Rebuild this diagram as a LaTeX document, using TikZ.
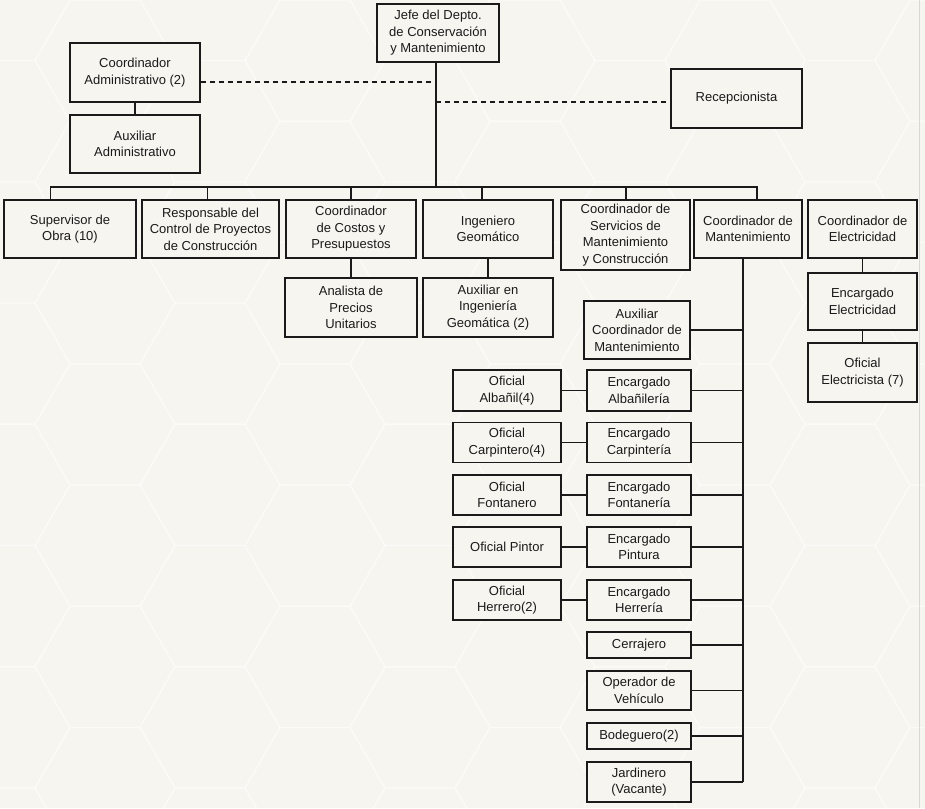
\documentclass[tikz,border=0pt]{standalone}
\usepackage{fontspec}
\setmainfont{Liberation Sans}
\definecolor{bgc}{HTML}{F6F5F0}
\definecolor{hexc}{HTML}{FBFBF8}
\definecolor{linec}{HTML}{1A1A1A}
\definecolor{edgec}{HTML}{D8D8D4}
\begin{document}
\begin{tikzpicture}[x=1pt,y=-1pt,
  box/.style={draw=linec, line width=1.1pt, fill=bgc, align=center, inner sep=1pt,
    text=linec, font=\fontsize{13}{16.5}\selectfont},
  conn/.style={draw=linec, line width=1.4pt},
  dconn/.style={conn, dash pattern=on 5pt off 4pt},
  hexline/.style={draw=hexc, line width=1.2pt}]
\useasboundingbox (0,0) rectangle (925,808);
\fill[bgc] (0,0) rectangle (925,808);
\begin{scope}
\clip (0,0) rectangle (925,808);
\foreach \i in {0,...,9} {
  \foreach \j in {-1,...,7} {
    \pgfmathsetmacro\cx{105*\i}
    \pgfmathsetmacro\cy{121.24*\j + 60.62*mod(\i,2)}
    \draw[hexline] (\cx+70,\cy) -- ++(-35,60.62) -- ++(-70,0) -- ++(-35,-60.62)
      -- ++(35,-60.62) -- ++(70,0) -- cycle;
  }
}
\end{scope}
\draw[edgec, line width=1pt] (919,0) -- (919,808);

% top
\node[box, minimum width=122, minimum height=58] (jefe) at (438,33) {Jefe del Depto.\\de Conservación\\y Mantenimiento};
\node[box, minimum width=130, minimum height=59] (cadm) at (135,72.5) {Coordinador\\Administrativo (2)};
\node[box, minimum width=130, minimum height=58] (aadm) at (135,144) {Auxiliar\\Administrativo};
\node[box, minimum width=131, minimum height=59] (recep) at (736.5,98.5) {Recepcionista};

% level 1
\node[box, minimum width=132, minimum height=58] (sup) at (70,229) {Supervisor de\\Obra (10)};
\node[box, minimum width=137, minimum height=58] (resp) at (210.5,229) {Responsable del\\Control de Proyectos\\de Construcción};
\node[box, minimum width=130, minimum height=58] (cost) at (351,229) {Coordinador\\de Costos y\\Presupuestos};
\node[box, minimum width=130, minimum height=58] (geo) at (488,229) {Ingeniero\\Geomático};
\node[box, minimum width=129, minimum height=70] (serv) at (625.5,235) {Coordinador de\\Servicios de\\Mantenimiento\\y Construcción};
\node[box, minimum width=108, minimum height=58] (mant) at (748,229) {Coordinador de\\Mantenimiento};
\node[box, minimum width=109, minimum height=58] (elec) at (862.5,229) {Coordinador de\\Electricidad};

% level 2
\node[box, minimum width=132, minimum height=59] (anal) at (351,307.5) {Analista de\\Precios\\Unitarios};
\node[box, minimum width=130, minimum height=59] (auxgeo) at (488,307.5) {Auxiliar en\\Ingeniería\\Geomática (2)};
\node[box, minimum width=109, minimum height=57] (eelec) at (862.5,301.5) {Encargado\\Electricidad};
\node[box, minimum width=109, minimum height=59] (oelec) at (862.5,372.5) {Oficial\\Electricista (7)};

% maintenance column
\node[box, minimum width=106, minimum height=58] (auxm) at (637,330) {Auxiliar\\Coordinador de\\Mantenimiento};
\node[box, minimum width=104, minimum height=41] (enalb) at (639,390.5) {Encargado\\Albañilería};
\node[box, minimum width=104, minimum height=40] (encar) at (639,442.5) {Encargado\\Carpintería};
\node[box, minimum width=104, minimum height=40] (enfon) at (639,495) {Encargado\\Fontanería};
\node[box, minimum width=104, minimum height=40] (enpin) at (639,547) {Encargado\\Pintura};
\node[box, minimum width=104, minimum height=40] (enher) at (639,600) {Encargado\\Herrería};
\node[box, minimum width=104, minimum height=26] (cerr) at (639,645) {Cerrajero};
\node[box, minimum width=104, minimum height=39] (oper) at (639,690.5) {Operador de\\Vehículo};
\node[box, minimum width=104, minimum height=26] (bode) at (639,736) {Bodeguero(2)};
\node[box, minimum width=104, minimum height=40] (jard) at (639,782) {Jardinero\\(Vacante)};

\node[box, minimum width=108, minimum height=41] (ofalb) at (507,390.5) {Oficial\\Albañil(4)};
\node[box, minimum width=108, minimum height=40] (ofcar) at (507,442.5) {Oficial\\Carpintero(4)};
\node[box, minimum width=108, minimum height=40] (offon) at (507,495) {Oficial\\Fontanero};
\node[box, minimum width=108, minimum height=40] (ofpin) at (507,547) {Oficial Pintor};
\node[box, minimum width=108, minimum height=40] (ofher) at (507,600) {Oficial\\Herrero(2)};

% coordinates
\coordinate (tA) at (436,82);
\coordinate (tB) at (436,102);
\coordinate (tbus) at (436,187);
\coordinate (busL) at (50.7,187);
\coordinate (busR) at (757,187);
\coordinate (dR) at (207.7,187);
\coordinate (dC) at (351,187);
\coordinate (dG) at (482,187);
\coordinate (dS) at (626,187);
\coordinate (mv) at (743,782);

% connectors
\draw[conn] (jefe.south -| tbus) -- (tbus);
\draw[dconn] (cadm.east |- tA) -- (tA);
\draw[dconn] (tB) -- (recep.west |- tB);
\draw[conn] (cadm.south) -- (aadm.north);
\draw[conn] (sup.north -| busL) -- (busL) -- (busR) -- (mant.north -| busR);
\draw[conn] (dR) -- (resp.north -| dR);
\draw[conn] (dC) -- (cost.north -| dC);
\draw[conn] (dG) -- (geo.north -| dG);
\draw[conn] (dS) -- (serv.north -| dS);
\draw[conn] (cost.south) -- (anal.north);
\draw[conn] (geo.south) -- (auxgeo.north);
\draw[conn] (elec.south) -- (eelec.north);
\draw[conn] (eelec.south) -- (oelec.north);
\draw[conn] (mant.south -| mv) -- (mv);
\foreach \n in {auxm,enalb,encar,enfon,enpin,enher,cerr,oper,bode,jard}
  \draw[conn] (\n.east) -- (\n.east -| mv);
\draw[conn] (ofalb.east) -- (enalb.west);
\draw[conn] (ofcar.east) -- (encar.west);
\draw[conn] (offon.east) -- (enfon.west);
\draw[conn] (ofpin.east) -- (enpin.west);
\draw[conn] (ofher.east) -- (enher.west);
\end{tikzpicture}
\end{document}
